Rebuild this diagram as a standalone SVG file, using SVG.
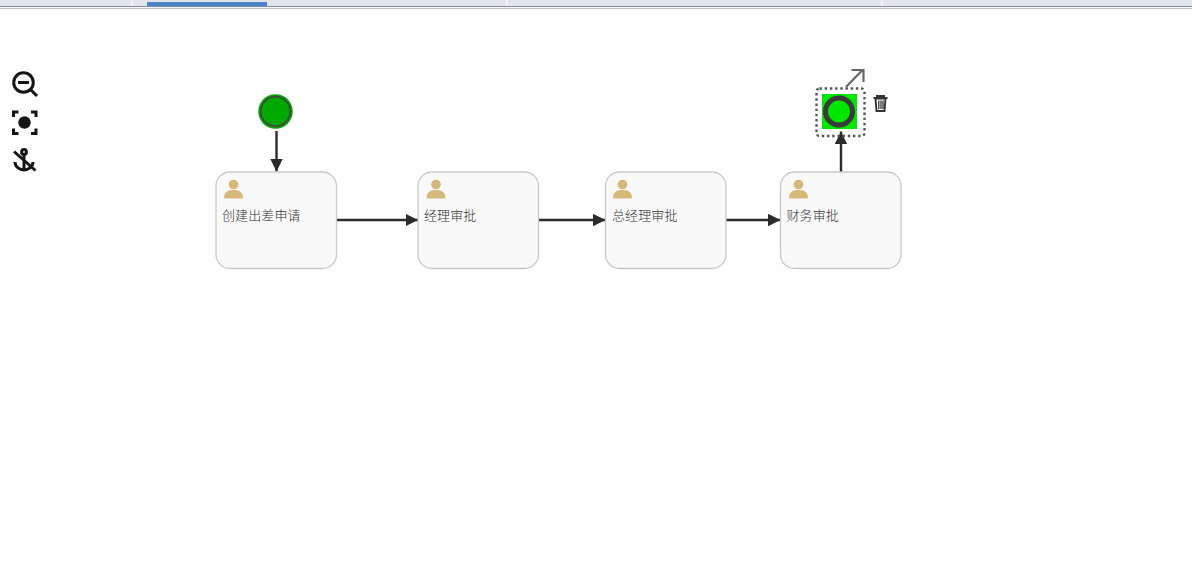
<svg xmlns="http://www.w3.org/2000/svg" width="1192" height="573" viewBox="0 0 1192 573">
<style>
.task{fill:#f9f9f9;stroke:#c8c8c8;stroke-width:1.3}
.lbl{font-family:"Noto Sans CJK SC",sans-serif;font-size:13px;font-weight:300;fill:#333;letter-spacing:.1px}
.flow{fill:none;stroke:#2b2b2b;stroke-width:2.4;marker-end:url(#arr)}
.user{fill:#d6b87a}
.tool{fill:none;stroke:#151515;stroke-width:3}
</style>
<defs>
<marker id="arr" viewBox="0 0 13 13" refX="12.500" refY="6.500" markerWidth="13" markerHeight="13" markerUnits="userSpaceOnUse" orient="auto"><path d="M0 0.300L12.500 6.500L0 12.700Z" fill="#2b2b2b"/></marker>
<g id="usr"><circle cx="0" cy="-5.500" r="4.800" class="user"/><path d="M-9.500 8.500C-9.500 1.500-5 0 0 0C5 0 9.500 1.500 9.500 8.500Z" class="user"/></g>
</defs>
<rect width="1192" height="573" fill="#fefefe"/>
<g id="tabbar">
<rect width="1192" height="6" fill="#e2e5ed"/>
<rect y="6" width="1192" height="1.300" fill="#8390a5"/>
<rect y="7.300" width="1192" height="1" fill="#fff"/>
<rect y="8.300" width="1192" height="0.800" fill="#a8a8a8"/>
<rect x="131" width="1.500" height="6" fill="#f5f6f9"/>
<rect x="506" width="1.500" height="6" fill="#f5f6f9"/>
<rect x="881" width="1.500" height="6" fill="#f5f6f9"/>
<rect x="147" y="2" width="120" height="4.300" fill="#4a84c4"/>
</g>
<g id="palette">
<g id="zoom-out"><circle cx="23.500" cy="82.500" r="9.800" class="tool"/><path d="M18 82.500H29" class="tool"/><path d="M30.500 89.500L37 96" class="tool" stroke-width="3.600"/></g>
<g id="fit"><path d="M13.500 117V112H18.500M31 112H36V117M36 128.500V133.500H31M18.500 133.500H13.500V128.500" class="tool"/><circle cx="24.500" cy="122.500" r="6.200" fill="#151515"/></g>
<g id="anchor"><circle cx="24" cy="152" r="2.400" class="tool" stroke-width="2.400"/><path d="M24 154V170M15 162C15 167 20 170 24 170C28 170 33 167 33 162M14 151.500L35.500 170.500" class="tool"/></g>
</g>
<g id="connectors">
<path class="flow" d="M276.500 131V171.500"/>
<path class="flow" d="M337 220H418"/>
<path class="flow" d="M539 220H605.500"/>
<path class="flow" d="M726 220H780.500"/>
<path class="flow" d="M841 172V131.500"/>
</g>
<g id="start"><circle cx="275.500" cy="111.500" r="17.300" fill="#00a800"/><circle cx="275.500" cy="111.500" r="14.800" fill="#00a800" stroke="#404a40" stroke-width="1.800"/></g>
<g id="task1"><rect class="task" x="216" y="172" width="120.500" height="96.500" rx="14"/><use href="#usr" x="233.500" y="190"/><text class="lbl" x="222" y="220">创建出差申请</text></g>
<g id="task2"><rect class="task" x="418" y="172" width="120.500" height="96.500" rx="14"/><use href="#usr" x="436" y="190"/><text class="lbl" x="424" y="220">经理审批</text></g>
<g id="task3"><rect class="task" x="605.500" y="172" width="120.500" height="96.500" rx="14"/><use href="#usr" x="622.500" y="190"/><text class="lbl" x="612" y="220">总经理审批</text></g>
<g id="task4"><rect class="task" x="780.500" y="172" width="120.500" height="96.500" rx="14"/><use href="#usr" x="798.500" y="190"/><text class="lbl" x="786.500" y="220">财务审批</text></g>
<g id="end"><rect x="822" y="94" width="35" height="35" fill="#00e600"/><circle cx="839" cy="111.500" r="13.500" fill="#00e600" stroke="#3a3a3a" stroke-width="5"/></g>
<g id="selection">
<rect x="816.500" y="88.500" width="48" height="47.500" rx="3" fill="none" stroke="#555" stroke-width="2.400" stroke-dasharray="2.400 2.800"/>
<path d="M846 87L862 70.500M851.500 70H863.500V82" fill="none" stroke="#666" stroke-width="2.200"/>
<g id="trash" fill="none" stroke="#333" stroke-width="1.900"><path d="M873.500 98H887.500M877 97.500V96H884V97.500"/><path d="M875.500 98.500L876.500 111H884.500L885.500 98.500Z"/><path d="M878.800 100.500V109M881 100.500V109M883 100.500V109" stroke-width="1.300"/></g>
</g>
</svg>
